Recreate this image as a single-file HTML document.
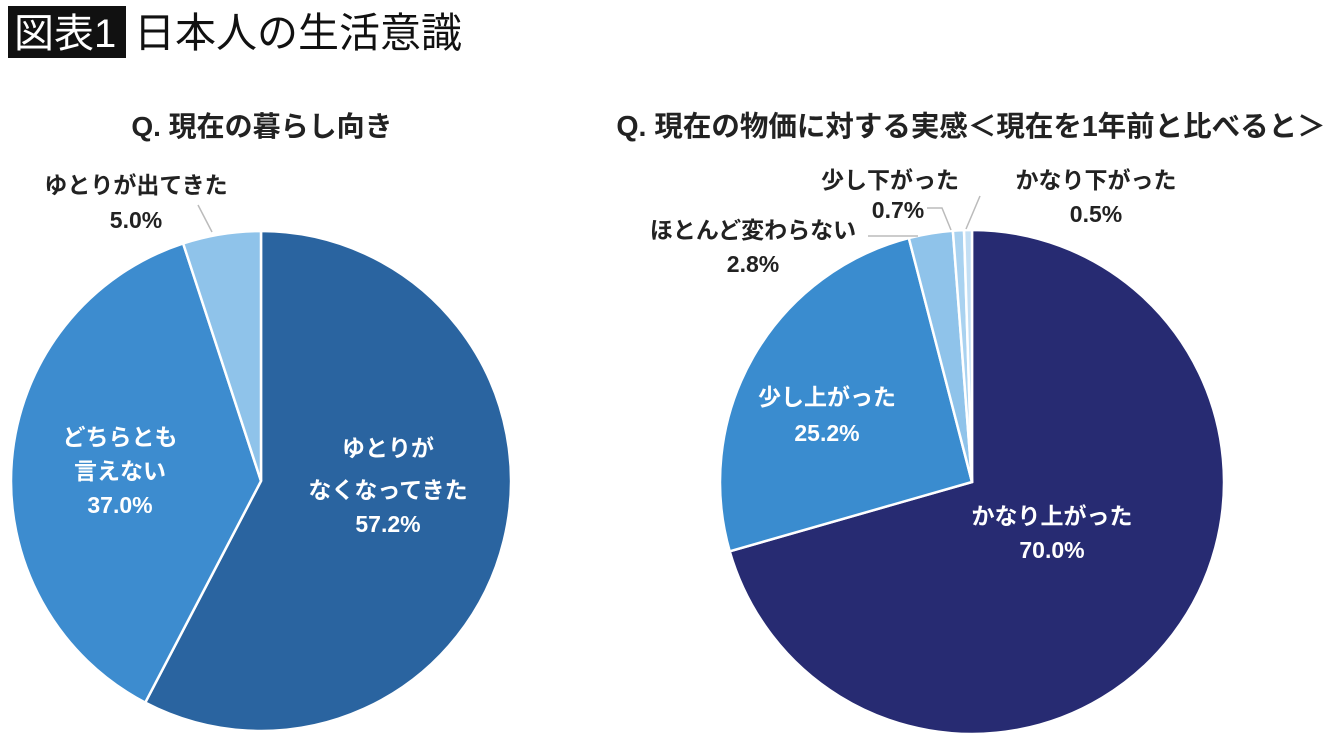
<!DOCTYPE html>
<html><head><meta charset="utf-8">
<style>
body{margin:0;width:1340px;height:747px;background:#fff;overflow:hidden;font-family:"Liberation Sans","Noto Sans CJK JP",sans-serif;}
svg{position:absolute;left:0;top:0}
text{font-family:"Liberation Sans","Noto Sans CJK JP",sans-serif;}
</style></head><body>
<svg width="1340" height="747">
<rect x="8" y="6" width="118" height="52" fill="#111"/>
<text x="14" y="47" font-size="40" fill="#fff">図表1</text>
<text x="134" y="47" font-size="41" fill="#111">日本人の生活意識</text>
<text x="262" y="136" font-size="28" font-weight="bold" text-anchor="middle" fill="#222">Q. 現在の暮らし向き</text>
<text x="971" y="136" font-size="28.5" font-weight="bold" text-anchor="middle" fill="#222">Q. 現在の物価に対する実感＜現在を1年前と比べると＞</text>
<g id="p1"></g><g id="p2"></g><g id="labels"></g>
</svg>
<script>
const cats1=["ゆとりがなくなってきた","どちらとも言えない","ゆとりが出てきた"];
const vals1=[57.2,37.0,5.0];
const cols1=["#2a64a0","#3d8ccf","#8fc3ea"];
const cats2=["かなり上がった","少し上がった","ほとんど変わらない","少し下がった","かなり下がった"];
const vals2=[70.0,25.2,2.8,0.7,0.5];
const cols2=["#272b72","#3a8ccf","#8fc3ea","#a9d2f0","#c3dff4"];
const NS="http://www.w3.org/2000/svg";
function pie(g,cx,cy,r,vals,cols,name){
  const tot=vals.reduce((a,b)=>a+b,0);let a=0;
  vals.forEach((v,i)=>{
    const a0=a/tot*2*Math.PI;a+=v;const a1=a/tot*2*Math.PI;
    const x0=cx+r*Math.sin(a0),y0=cy-r*Math.cos(a0),x1=cx+r*Math.sin(a1),y1=cy-r*Math.cos(a1);
    const p=document.createElementNS(NS,"path");
    p.setAttribute("d",`M${cx},${cy}L${x0},${y0}A${r},${r} 0 ${(a1-a0)>Math.PI?1:0} 1 ${x1},${y1}Z`);
    p.setAttribute("fill",cols[i]);p.setAttribute("stroke","#fff");p.setAttribute("stroke-width","2.5");
    
    
    g.appendChild(p);
  });
}
pie(document.getElementById("p1"),261,481,250,vals1,cols1,"left-pie");
pie(document.getElementById("p2"),972,482,252,vals2,cols2,"right-pie");
const L=document.getElementById("labels");
function t(x,y,s,c,name){const e=document.createElementNS(NS,"text");e.setAttribute("x",x);e.setAttribute("y",y);e.setAttribute("font-size","23");e.setAttribute("font-weight","bold");e.setAttribute("text-anchor","middle");e.setAttribute("fill",c);e.textContent=s;


L.appendChild(e);}
function ln(pts,name){const e=document.createElementNS(NS,"polyline");e.setAttribute("points",pts);e.setAttribute("fill","none");e.setAttribute("stroke","#bbb");e.setAttribute("stroke-width","1.5");


L.appendChild(e);}
t(388,456,"ゆとりが","#fff","label-1a");t(388,498,"なくなってきた","#fff","label-1b");t(388,532,vals1[0].toFixed(1)+"%","#fff","value-1");
t(120,445,"どちらとも","#fff","label-2a");t(120,479,"言えない","#fff","label-2b");t(120,513,vals1[1].toFixed(1)+"%","#fff","value-2");
t(136,193,"ゆとりが出てきた","#222","label-3");t(136,228,vals1[2].toFixed(1)+"%","#222","value-3");
ln("198,205 212,232","leader-3");
t(1052,524,"かなり上がった","#fff","label-r1");t(1052,558,vals2[0].toFixed(1)+"%","#fff","value-r1");
t(827,405,"少し上がった","#fff","label-r2");t(827,441,vals2[1].toFixed(1)+"%","#fff","value-r2");
t(753,238,"ほとんど変わらない","#222","label-r3");t(753,272,vals2[2].toFixed(1)+"%","#222","value-r3");
ln("868,236 918,236","leader-r3");
t(890,188,"少し下がった","#222","label-r4");t(898,218,vals2[3].toFixed(1)+"%","#222","value-r4");
ln("927,208 942,208 951,230","leader-r4");
t(1096,188,"かなり下がった","#222","label-r5");t(1096,222,vals2[4].toFixed(1)+"%","#222","value-r5");
ln("980,196 966,229","leader-r5");
</script>
</body></html>
